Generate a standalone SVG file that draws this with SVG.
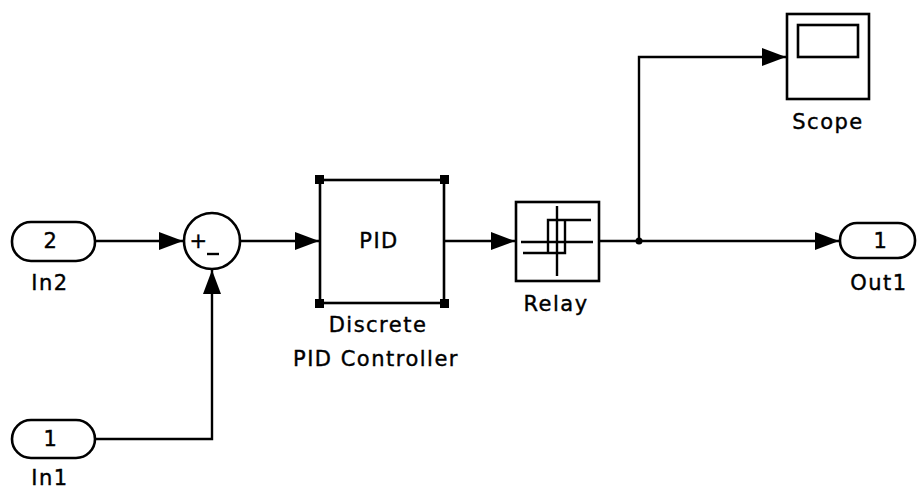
<svg xmlns="http://www.w3.org/2000/svg" width="917" height="489" viewBox="0 0 917 489">
<defs>
<marker id="arr" markerUnits="userSpaceOnUse" markerWidth="24" markerHeight="20" viewBox="0 0 24 20" refX="24" refY="10" orient="auto">
<path d="M0,1 L24,10 L0,19 Z" fill="#000"/>
</marker>
</defs>
<style>
.ln{fill:none;stroke:#000;stroke-width:2.4}
.blk{fill:#fff;stroke:#000;stroke-width:2.6}
.t{font-family:"DejaVu Sans",sans-serif;font-size:21px;fill:#000;text-anchor:middle;letter-spacing:1.5px;stroke:#000;stroke-width:0.4}
.h{fill:#000}
</style>
<rect width="917" height="489" fill="#fff"/>
<g id="connectors" class="ln">
<path d="M95,241 H183" marker-end="url(#arr)"/>
<path d="M95,439 H212 V270" marker-end="url(#arr)"/>
<path d="M240,241 H319" marker-end="url(#arr)"/>
<path d="M444,241 H515" marker-end="url(#arr)"/>
<path d="M599,241 H839" marker-end="url(#arr)"/>
<path d="M639,241 V57 H786" marker-end="url(#arr)"/>
<circle cx="639" cy="241" r="3.5" fill="#000" stroke="none"/>
</g>
<g id="In2">
<rect class="blk" x="12" y="222" width="83" height="39" rx="19"/>
<text class="t" x="51" y="248">2</text>
<text class="t" x="50" y="290">In2</text>
</g>
<g id="In1">
<rect class="blk" x="12" y="420" width="83" height="38" rx="19"/>
<text class="t" x="51" y="446">1</text>
<text class="t" x="50" y="485">In1</text>
</g>
<g id="Sum">
<circle class="blk" cx="212" cy="241" r="28"/>
<text class="t" x="199" y="248">+</text>
<path d="M207,254 H219" class="ln"/>
</g>
<g id="PID">
<rect class="blk" x="320" y="180" width="124" height="123"/>
<rect class="h" x="315" y="175" width="9" height="9"/>
<rect class="h" x="440" y="175" width="9" height="9"/>
<rect class="h" x="315" y="299" width="9" height="9"/>
<rect class="h" x="440" y="299" width="9" height="9"/>
<text class="t" x="379" y="248">PID</text>
<text class="t" x="378" y="332">Discrete</text>
<text class="t" x="376" y="366">PID Controller</text>
</g>
<g id="Relay">
<rect class="blk" x="516" y="202" width="83" height="79"/>
<path class="ln" d="M521,242 H593 M557,206 V276 M548,220 H565 V253 H548 Z M548,220 H591 M523,253 H565"/>
<text class="t" x="556" y="311">Relay</text>
</g>
<g id="Scope">
<rect class="blk" x="787" y="14" width="82" height="85"/>
<rect class="blk" x="798" y="25" width="60" height="32"/>
<text class="t" x="828" y="129">Scope</text>
</g>
<g id="Out1">
<rect class="blk" x="840" y="223" width="75" height="35" rx="17"/>
<text class="t" x="881" y="248">1</text>
<text class="t" x="879" y="290">Out1</text>
</g>
</svg>
